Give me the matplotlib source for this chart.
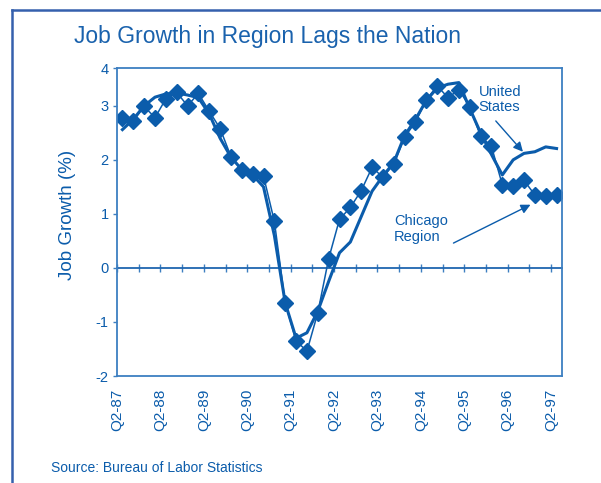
import matplotlib
matplotlib.use("Agg")
import matplotlib.pyplot as plt
from matplotlib.lines import Line2D

plt.rcParams['font.family'] = ['Liberation Sans', 'DejaVu Sans']

# quarterly, Q2-87 .. Q2-97
chicago = [2.77, 2.72, 2.99, 2.78, 3.13, 3.25, 3.00, 3.23, 2.90, 2.58,
           2.06, 1.81, 1.74, 1.70, 0.86, -0.65, -1.35, -1.54, -0.83, 0.17,
           0.90, 1.12, 1.43, 1.86, 1.68, 1.92, 2.42, 2.70, 3.11, 3.37,
           3.15, 3.30, 2.98, 2.44, 2.25, 1.54, 1.51, 1.62, 1.35, 1.33, 1.35]
us = [2.56, 2.75, 3.00, 3.16, 3.22, 3.24, 3.20, 3.15, 2.85, 2.40,
      2.05, 1.82, 1.72, 1.50, 0.60, -0.65, -1.30, -1.20, -0.80, -0.25,
      0.28, 0.48, 0.95, 1.42, 1.70, 1.95, 2.45, 2.75, 3.10, 3.33,
      3.40, 3.43, 2.95, 2.50, 2.10, 1.72, 2.00, 2.12, 2.15, 2.24, 2.21]
year_labels = ['Q2-87', 'Q2-88', 'Q2-89', 'Q2-90', 'Q2-91', 'Q2-92',
               'Q2-93', 'Q2-94', 'Q2-95', 'Q2-96', 'Q2-97']

blue = '#0b5cab'
frame = '#3d7fc1'

fig = plt.figure(figsize=(6.01, 4.83), dpi=100)
ax = fig.add_axes([117 / 601, 1 - 376 / 483, 445 / 601, 308 / 483])

x = [i + 0.5 for i in range(len(chicago))]
ax.plot(x, us, color=blue, lw=2.2, solid_joinstyle='round')
ax.plot(x, chicago, color=blue, lw=1.1, marker='D', ms=8.5,
        markeredgecolor=blue, markerfacecolor=blue)

ax.set_xlim(0, len(chicago))
ax.set_ylim(-2, 3.7)

# y ticks (the top label reads 4 in the original)
ax.set_yticks([-2, -1, 0, 1, 2, 3, 3.7])
ax.set_yticklabels(['-2', '-1', '0', '1', '2', '3', '4'])
ax.tick_params(axis='y', direction='out', length=3, width=1, color=frame,
               labelcolor=blue, labelsize=10.5, pad=3)

ax.set_xticks([4 * k for k in range(len(year_labels))])
ax.set_xticklabels(year_labels, rotation=90)
ax.tick_params(axis='x', length=0, labelcolor=blue, labelsize=11, pad=9)

for s in ax.spines.values():
    s.set_color(frame)
    s.set_linewidth(1.3)

# zero line with half-year ticks
zero_frac = (0 - (-2)) / (3.7 - (-2))
sec = ax.secondary_xaxis(zero_frac)
sec.set_xticks(range(0, len(chicago), 2))
sec.set_xticklabels([])
sec.tick_params(direction='inout', length=6, width=1, color=frame)
sec.spines['bottom'].set_color('#1f66b0')
sec.spines['bottom'].set_linewidth(1.3)

ax.set_ylabel('Job Growth (%)', color=blue, fontsize=13.5)
ax.yaxis.set_label_coords(-0.092, 0.523)

arrow = dict(arrowstyle='-|>', color=blue, lw=1, shrinkA=0, shrinkB=0,
             mutation_scale=14)
ax.text(33.3, 3.39, 'United\nStates', color=blue, fontsize=10.5,
        ha='left', va='top', linespacing=1.15)
ax.annotate('', xy=(37.4, 2.15), xytext=(34.9, 2.72), arrowprops=arrow)
ax.text(25.5, 0.99, 'Chicago\nRegion', color=blue, fontsize=10.5,
        ha='left', va='top', linespacing=1.15)
ax.annotate('', xy=(38.1, 1.17), xytext=(31.0, 0.46), arrowprops=arrow)

fig.text(268 / 601, 1 - 37 / 483, 'Job Growth in Region Lags the Nation',
         color='#1a62ad', fontsize=16.5, ha='center', va='center')
fig.text(51 / 601, 1 - 468 / 483, 'Source: Bureau of Labor Statistics',
         color=blue, fontsize=10, ha='left', va='center')

# outer panel border (top and left edges)
fig.add_artist(Line2D([12 / 601, 1], [1 - 10 / 483, 1 - 10 / 483],
                      color='#3560ad', lw=1.8))
fig.add_artist(Line2D([12 / 601, 12 / 601], [0, 1 - 10 / 483],
                      color='#3560ad', lw=1.8))

fig.savefig('out.png', dpi=100)
